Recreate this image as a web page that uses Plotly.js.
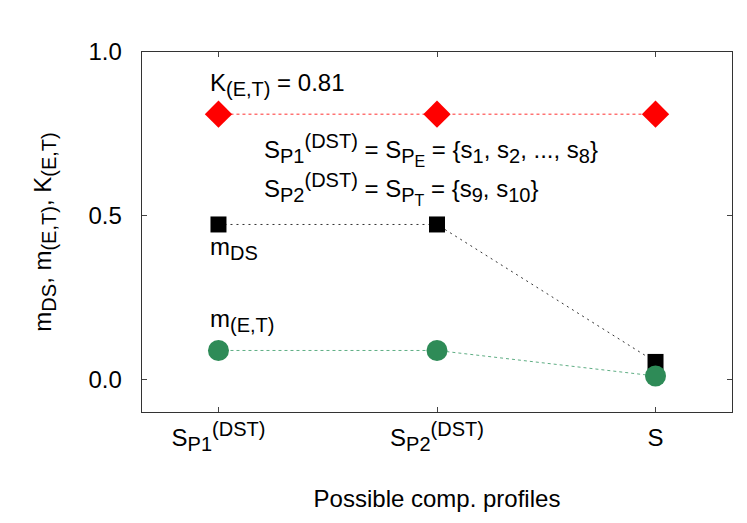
<!DOCTYPE html>
<html><head><meta charset="utf-8">
<script src="https://cdn.plot.ly/plotly-3.0.1.min.js"></script>
<style>html,body{margin:0;padding:0;background:#fff}</style>
</head><body>
<div id="chart" style="width:747px;height:523px"></div>
<script>
const categories = [0, 1, 2];
const kValues = [0.81, 0.81, 0.81];
const mdsValues = [0.473, 0.473, 0.053];
const metValues = [0.088, 0.088, 0.010];

const F = 'Liberation Sans, Arial, sans-serif';
const FS = 24;
const SS = 20;
const sb = t => `<sub><span style="font-size:${SS}px">${t}</span></sub>`;
const sp = t => `<sup><span style="font-size:${SS}px">${t}</span></sup>`;
const sb2 = t => `<sub><span style="font-size:16px">${t}</span></sub>`;

const tickLabels = ["S" + sb("P1") + sp("(DST)"), "S" + sb("P2") + sp("(DST)"), "S"];

const traces = [
  {x: categories, y: kValues, mode: 'lines+markers', type: 'scatter',
   line: {color: '#ff3030', width: 1, dash: '3px,3px'},
   marker: {symbol: 'diamond', size: 21, color: '#ff0000'}},
  {x: categories, y: mdsValues, mode: 'lines+markers', type: 'scatter',
   line: {color: '#333333', width: 1, dash: '2px,4px'},
   marker: {symbol: 'square', size: 16, color: '#000000'}},
  {x: categories, y: metValues, mode: 'lines+markers', type: 'scatter',
   line: {color: '#5fae84', width: 1, dash: '3px,3px'},
   marker: {symbol: 'circle', size: 21, color: '#2e8b57'}}
];

const layout = {
  width: 747, height: 523,
  margin: {l: 142, r: 15, t: 52, b: 111},
  showlegend: false,
  paper_bgcolor: '#fff', plot_bgcolor: '#fff',
  font: {family: F, size: FS, color: '#000'},
  xaxis: {
    range: [-0.35, 2.35], tickvals: categories, ticktext: tickLabels,
    ticks: 'inside', ticklen: 5, tickcolor: '#444', mirror: 'ticks', showline: true, linecolor: '#333', linewidth: 1.3,
    showgrid: false, zeroline: false, tickfont: {family: F, size: FS}, ticklabelstandoff: 4,
    title: {text: 'Possible comp. profiles', font: {family: F, size: FS}, standoff: 36}
  },
  yaxis: {
    range: [-0.1, 1.0], tickvals: [0, 0.5, 1.0], ticktext: ['0.0', '0.5', '1.0'],
    ticks: 'inside', ticklen: 5, tickcolor: '#444', mirror: 'ticks', showline: true, linecolor: '#333', linewidth: 1.3,
    showgrid: false, zeroline: false, tickfont: {family: F, size: FS}, ticklabelstandoff: 14,
    title: {text: 'm' + sb('DS') + ', m' + sb('(E,T)') + ', K' + sb('(E,T)'), font: {family: F, size: FS}, standoff: 30}
  },
  annotations: [
    {x: -0.05, y: 0.90, xref: 'x', yref: 'y', xanchor: 'left', yanchor: 'middle', showarrow: false,
     text: 'K' + sb('(E,T)') + ' = 0.81'},
    {x: 0.2, y: 0.70, xref: 'x', yref: 'y', xanchor: 'left', yanchor: 'middle', showarrow: false,
     text: 'S' + sb('P1') + sp('(DST)') + ' = S' + sb('P' + sb2('E')) + ' = {s' + sb('1') + ', s' + sb('2') + ', ..., s' + sb('8') + '}'},
    {x: 0.2, y: 0.58, xref: 'x', yref: 'y', xanchor: 'left', yanchor: 'middle', showarrow: false,
     text: 'S' + sb('P2') + sp('(DST)') + ' = S' + sb('P' + sb2('T')) + ' = {s' + sb('9') + ', s' + sb('10') + '}'},
    {x: -0.05, y: 0.40, xref: 'x', yref: 'y', xanchor: 'left', yanchor: 'middle', showarrow: false,
     text: 'm' + sb('DS')},
    {x: -0.05, y: 0.18, xref: 'x', yref: 'y', xanchor: 'left', yanchor: 'middle', showarrow: false,
     text: 'm' + sb('(E,T)')}
  ]
};

Plotly.newPlot('chart', traces, layout, {displayModeBar: false, staticPlot: true});
</script>
</body></html>
